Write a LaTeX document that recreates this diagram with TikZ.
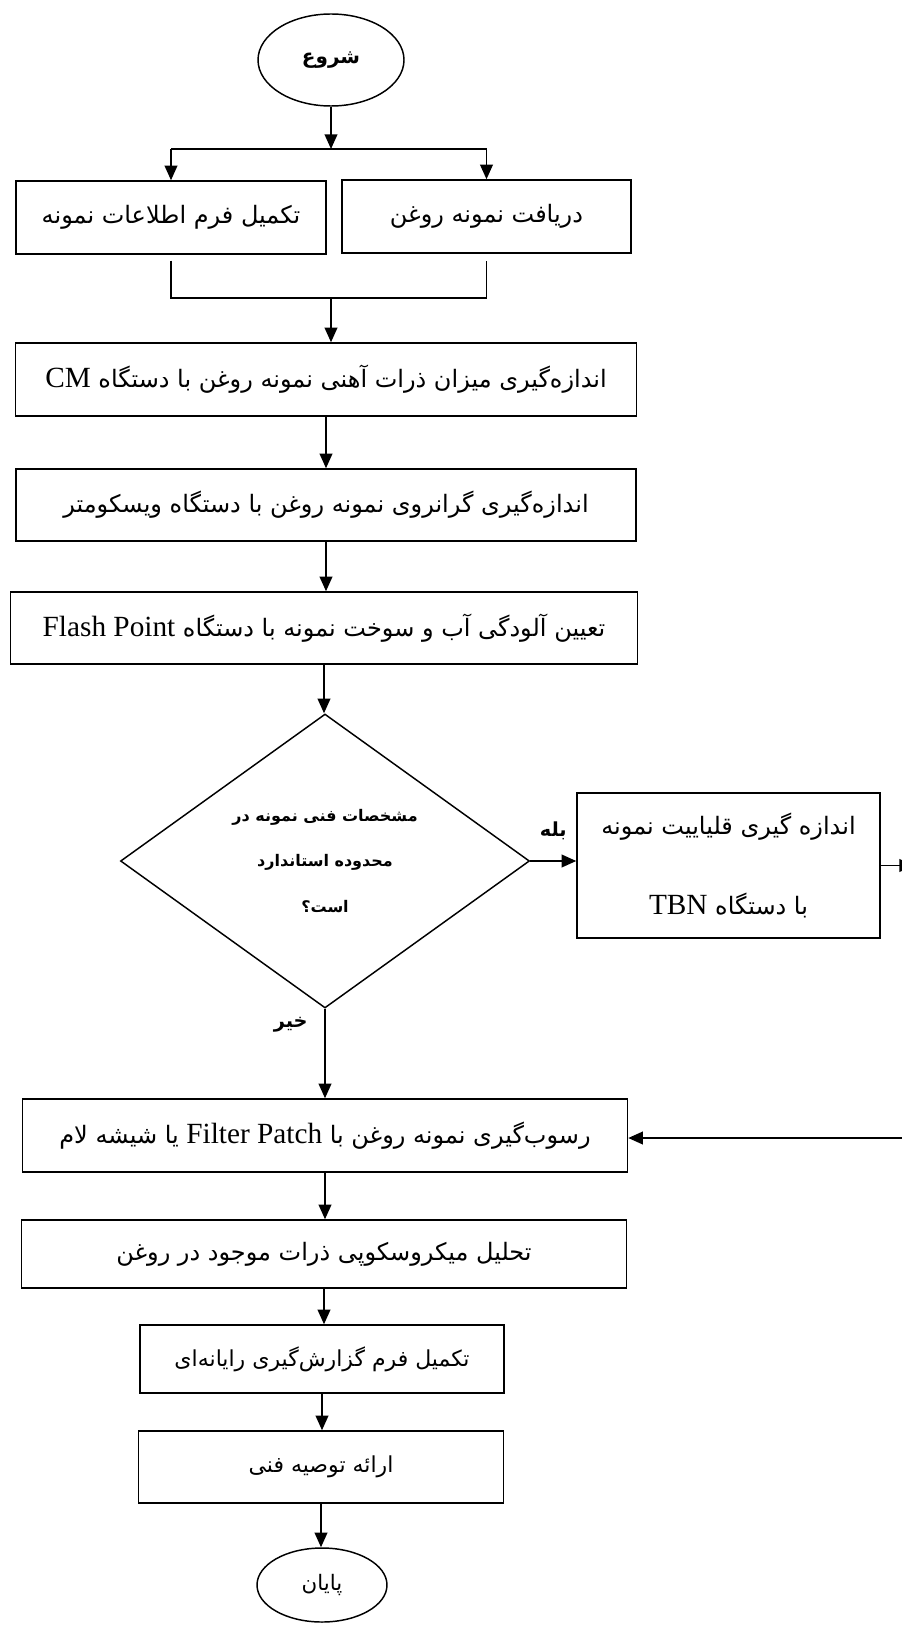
\documentclass[tikz,border=0pt]{standalone}
\usepackage{fontspec}
\setmainfont{Liberation Serif}
\newfontfamily\fa[Script=Arabic]{DejaVu Sans}
\newfontfamily\latinfont[Scale=1.22]{Liberation Serif}
\TeXXeTstate=1
\usetikzlibrary{shapes.geometric,arrows.meta,calc}
\newcommand{\rl}[1]{{\fa\beginR #1\endR}}
\newcommand{\lt}[1]{\beginL{\latinfont #1}\endL}

\begin{document}
\begin{tikzpicture}[x=0.75pt,y=-0.75pt,
    box/.style={draw, line width=1.1pt, rectangle, inner sep=0pt, font=\fontsize{18}{21}\selectfont},
    term/.style={draw, line width=1.1pt, ellipse, inner sep=0pt},
    decision/.style={draw, line width=1.1pt, diamond, inner sep=0pt, align=center},
    arr/.style={-{Triangle[length=11pt,width=9.5pt]}, line width=1.4pt},
    lbl/.style={font=\fontsize{14.5}{16}\bfseries\selectfont}]
    \useasboundingbox (0,0) rectangle (902,1630);

    \node[term, minimum width=109.5pt, minimum height=69pt, font=\fontsize{15}{17}\bfseries\selectfont] (start) at (331,60) {\rl{شروع}};
    \node[box, minimum width=232.5pt, minimum height=54.75pt] (form) at (171,217.5) {\rl{تکمیل فرم اطلاعات نمونه}};
    \node[box, minimum width=216.75pt, minimum height=54.75pt] (recv) at (486.5,216.5) {\rl{دریافت نمونه روغن}};
    \node[box, minimum width=465.75pt, minimum height=54.75pt] (cm) at (326,379.5) {\rl{اندازه‌گیری میزان ذرات آهنی نمونه روغن با دستگاه \lt{CM}}};
    \node[box, minimum width=465pt, minimum height=54pt] (visc) at (326,505) {\rl{اندازه‌گیری گرانروی نمونه روغن با دستگاه ویسکومتر}};
    \node[box, minimum width=470.25pt, minimum height=54pt] (flash) at (324,628) {\rl{تعیین آلودگی آب و سوخت نمونه با دستگاه \lt{Flash Point}}};
    \node[decision, minimum width=306.75pt, minimum height=220.5pt, font=\fontsize{12}{34}\bfseries\selectfont] (dec) at (325,861) {\rl{مشخصات فنی نمونه در}\\\rl{محدوده استاندارد}\\\rl{است؟}};
    \node[box, minimum width=227.25pt, minimum height=108.75pt, align=center, font=\fontsize{18}{60}\selectfont] (tbn) at (728.5,865.5) {\rl{اندازه گیری قلیاییت نمونه}\\\rl{با دستگاه \lt{TBN}}};
    \node[box, minimum width=453.75pt, minimum height=54.75pt] (filter) at (325,1135.5) {\rl{رسوب‌گیری نمونه روغن با \lt{Filter Patch} یا شیشه لام}};
    \node[box, minimum width=453.75pt, minimum height=51pt] (micro) at (324,1254) {\rl{تحلیل میکروسکوپی ذرات موجود در روغن}};
    \node[box, minimum width=273pt, minimum height=51pt, font=\fontsize{16.5}{19}\selectfont] (report) at (322,1359) {\rl{تکمیل فرم گزارش‌گیری رایانه‌ای}};
    \node[box, minimum width=273.75pt, minimum height=54pt, font=\fontsize{16.5}{19}\selectfont] (advice) at (321,1467) {\rl{ارائه توصیه فنی}};
    \node[term, minimum width=97.5pt, minimum height=55.5pt, font=\fontsize{16}{18}\selectfont] (end) at (322,1585) {\rl{پایان}};

    \coordinate (fork) at (331,149);
    \coordinate (join) at (331,298);
    \coordinate (yesout) at (914,865.5);
    \coordinate (noin) at (910,1138);

    \draw[arr] (start) -- (fork);
    \draw[line width=1.4pt] (form.north |- fork) -- (recv.north |- fork);
    \draw[arr] (form.north |- fork) -- (form.north);
    \draw[arr] (recv.north |- fork) -- (recv.north);
    \draw[line width=1.4pt] ($(form.south)+(0,6)$) |- (join) -| ($(recv.south)+(0,7)$);
    \draw[arr] (join) -- (join |- cm.north);
    \draw[arr] (cm.south) -- (cm.south |- visc.north);
    \draw[arr] (visc.south) -- (visc.south |- flash.north);
    \draw[arr] (flash.south) -- (flash.south |- dec.north);
    \draw[arr] (dec.east) -- node[midway, above=12pt, lbl] {\rl{بله}} (tbn.west |- dec.east);
    \draw[arr] (tbn.east) -- (yesout);
    \draw[arr] (dec.south) -- node[pos=0.18, left=9pt, lbl] {\rl{خیر}} (dec.south |- filter.north);
    \draw[arr] (noin) -- (filter.east |- noin);
    \draw[arr] (filter.south) -- (filter.south |- micro.north);
    \draw[arr] (micro.south) -- (micro.south |- report.north);
    \draw[arr] (report.south) -- (report.south |- advice.north);
    \draw[arr] (advice.south) -- (advice.south |- end.north);
\end{tikzpicture}
\end{document}
